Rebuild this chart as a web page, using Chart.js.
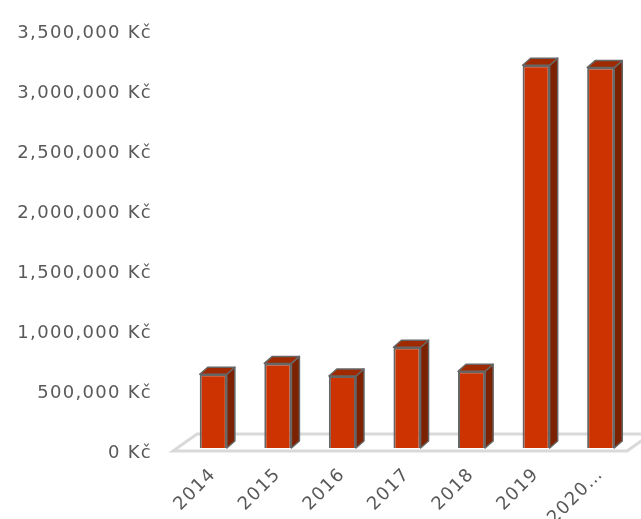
<!DOCTYPE html>
<html>
<head>
<meta charset="utf-8">
<script src="https://cdn.jsdelivr.net/npm/chart.js@4"></script>
<style>
  html, body { margin: 0; padding: 0; background: #fff; }
  #wrap { width: 641px; height: 519px; }
</style>
</head>
<body>
<div id="wrap"><canvas id="costChart"></canvas></div>
<script>
// Data
const years = ["2014", "2015", "2016", "2017", "2018", "2019", "2020…"]
const amounts = [615000, 705000, 600000, 840000, 640000, 3190000, 3170000]
const yTicks = [0, 500000, 1000000, 1500000, 2000000, 2500000, 3000000, 3500000]

const textColor = "#595959"
const depthX = 8
const depthY = 7

// floor slab + side/top faces of the columns
const fake3d = {
  id: "fake3d",
  beforeDraw(chart) {
    chart.ctx.letterSpacing = "1.3px"
  },
  beforeDatasetsDraw(chart) {
    const { ctx, chartArea: a } = chart
    const fy = a.bottom + 3
    const by = a.bottom - 14
    ctx.save()
    ctx.strokeStyle = "#d9d9d9"
    ctx.lineWidth = 3
    ctx.beginPath()
    ctx.moveTo(a.left - 8, fy)
    ctx.lineTo(a.right - 6, fy)
    ctx.lineTo(a.right + 18, by)
    ctx.lineTo(a.left + 16, by)
    ctx.closePath()
    ctx.stroke()
    ctx.restore()
  },
  afterDatasetsDraw(chart) {
    const { ctx } = chart
    const meta = chart.getDatasetMeta(0)
    ctx.save()
    ctx.strokeStyle = "#666666"
    ctx.lineWidth = 1.5
    ctx.lineJoin = "round"
    meta.data.forEach((bar) => {
      const x1 = bar.x - bar.width / 2
      const x2 = bar.x + bar.width / 2
      const top = bar.y
      const bottom = bar.base
      // side
      ctx.fillStyle = "#7d2200"
      ctx.beginPath()
      ctx.moveTo(x2, top)
      ctx.lineTo(x2 + depthX, top - depthY)
      ctx.lineTo(x2 + depthX, bottom - depthY)
      ctx.lineTo(x2, bottom)
      ctx.closePath()
      ctx.fill()
      ctx.stroke()
      // top
      ctx.fillStyle = "#a02a00"
      ctx.beginPath()
      ctx.moveTo(x1, top)
      ctx.lineTo(x1 + depthX, top - depthY)
      ctx.lineTo(x2 + depthX, top - depthY)
      ctx.lineTo(x2, top)
      ctx.closePath()
      ctx.fill()
      ctx.stroke()
    })
    ctx.restore()
  },
}

new Chart(document.getElementById("costChart"), {
  type: "bar",
  data: {
    labels: years,
    datasets: [
      {
        data: amounts,
        backgroundColor: "#cc3300",
        borderColor: "#666666",
        borderWidth: 2,
        barPercentage: 0.42,
        categoryPercentage: 1,
      },
    ],
  },
  options: {
    responsive: true,
    maintainAspectRatio: false,
    animation: false,
    layout: { padding: { left: 16, right: 8, top: 28, bottom: 0 } },
    plugins: {
      legend: { display: false },
      tooltip: { enabled: false },
    },
    scales: {
      y: {
        min: yTicks[0],
        max: yTicks[yTicks.length - 1],
        afterBuildTicks: (scale) => {
          scale.ticks = yTicks.map((v) => ({ value: v }))
        },
        afterFit: (scale) => {
          scale.width = 165
          scale.paddingTop = 0
          scale.paddingBottom = 0
        },
        grid: { display: false, drawTicks: false },
        border: { display: false },
        ticks: {
          padding: 29,
          labelOffset: 5,
          color: textColor,
          font: { family: "DejaVu Sans", size: 18 },
          callback: (value) => value.toLocaleString("en-US") + " Kč",
        },
      },
      x: {
        afterFit: (scale) => {
          scale.height = 71
        },
        grid: { display: false, drawTicks: false },
        border: { display: false },
        ticks: {
          autoSkip: false,
          minRotation: 45,
          maxRotation: 45,
          padding: 16,
          color: textColor,
          font: { family: "DejaVu Sans", size: 18 },
        },
      },
    },
  },
  plugins: [fake3d],
})
</script>
</body>
</html>
